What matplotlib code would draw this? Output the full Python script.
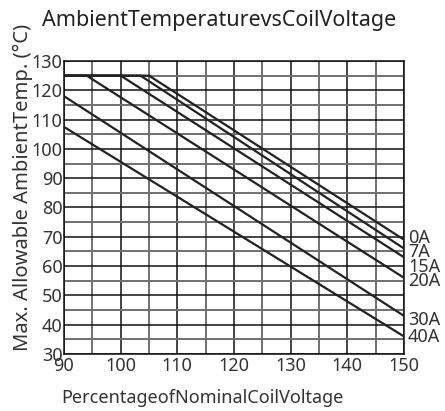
import numpy as np
import matplotlib
matplotlib.use('Agg')
import matplotlib.pyplot as plt

# --- DATA ---
currents = ['0A', '7A', '15A', '20A', '30A', '40A']
x_start = [105, 103.5, 100, 94, 90, 90]
y_start = [125, 125, 125, 125, 118, 107.5]
y_end = [69, 66, 63, 56, 43, 36]
x_end = 150
label_y = [69.5, 64.7, 59.6, 54.8, 41.6, 35.9]

plt.rcParams['font.family'] = ['Noto Sans', 'DejaVu Sans']

fig = plt.figure(figsize=(4.45, 4.11), dpi=100)
ax = fig.add_axes([0.1438, 0.1387, 0.7641, 0.7129])

for name, xs, ys, ye, ly in zip(currents, x_start, y_start, y_end, label_y):
    xx = [90, xs, x_end] if xs > 90 else [xs, x_end]
    yy = [ys, ys, ye] if xs > 90 else [ys, ye]
    ax.plot(xx, yy, color='#222222', lw=1.6, solid_capstyle='butt', zorder=3)
    ax.text(150.7, ly, name, fontsize=13, va='center', ha='left',
            color='#333333', clip_on=False)

ax.set_xlim(90, 150)
ax.set_ylim(30, 130)
ax.set_xticks(np.arange(90, 151, 10))
ax.set_yticks(np.arange(30, 131, 10))
ax.set_xticks(np.arange(95, 150, 10), minor=True)
ax.set_yticks(np.arange(35, 130, 10), minor=True)
ax.grid(which='major', color='#111111', lw=1.1)
ax.grid(which='minor', color='#707070', lw=1.4)
ax.set_axisbelow(True)
ax.tick_params(which='both', length=0, labelsize=13, labelcolor='#333333')
ax.tick_params(axis='x', pad=2)
ax.tick_params(axis='y', pad=1)
for s in ax.spines.values():
    s.set_color('#111111')
    s.set_linewidth(1.1)

fig.text(0.492, 0.951, 'AmbientTemperaturevsCoilVoltage', ha='center', va='center',
         fontsize=15.5, color='#222222')
fig.text(0.052, 0.545, 'Max. Allowable AmbientTemp. (°C)', rotation=90,
         ha='center', va='center', fontsize=14.5, color='#333333')
fig.text(0.454, 0.032, 'PercentageofNominalCoilVoltage', ha='center', va='center',
         fontsize=13, color='#333333')

fig.savefig('out.png', dpi=100)
